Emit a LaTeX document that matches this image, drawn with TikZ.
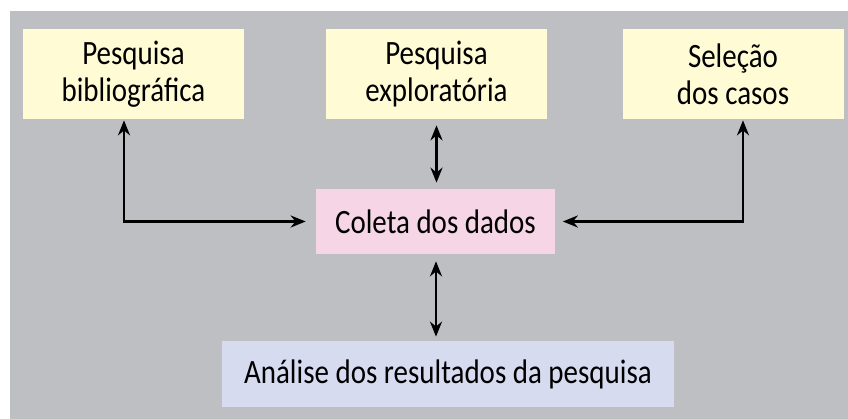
\documentclass[tikz,border=0pt]{standalone}
\usepackage{fontspec}
\setmainfont{Carlito}[FakeStretch=0.85]
\usepackage{tikz}
\usetikzlibrary{positioning}
\usetikzlibrary{arrows.meta}

\definecolor{fundo}{RGB}{190,191,195}
\definecolor{creme}{RGB}{255,251,213}
\definecolor{rosa}{RGB}{246,213,230}
\definecolor{lilas}{RGB}{214,219,240}

\tikzset{
  caixa/.style={rectangle, fill=creme, minimum width=4.42cm, minimum height=1.8cm,
    align=center, inner sep=0pt, font=\fontsize{19.4}{21}\selectfont},
  seta2/.style={line width=1.7pt, {Stealth[length=0.3cm,width=0.24cm]}-{Stealth[length=0.3cm,width=0.24cm]}}
}

\begin{document}
\begin{tikzpicture}
\useasboundingbox (0,0) rectangle (16.96,-8.38);
\fill[fundo] (0.2,-0.22) rectangle (16.96,-8.38);

\node[caixa] (bib) at (2.67,-1.48) {Pesquisa\\bibliográfica};
\node[caixa] (expl) at (8.73,-1.48) {Pesquisa\\exploratória};
\node[caixa] (sel) at (14.66,-1.48) {Seleção\\dos casos};
\node[caixa, fill=rosa, minimum width=4.78cm, minimum height=1.3cm] (coleta) at (8.71,-4.43) {Coleta dos dados};
\node[caixa, fill=lilas, minimum width=9.04cm, minimum height=1.32cm] (analise) at (8.96,-7.48) {Análise dos resultados da pesquisa};

%\draw (bib) -- (coleta);
\draw[seta2, shorten <=0.02cm, shorten >=0.2cm] ([xshift=-0.19cm]bib.south) |- (coleta.west);
\draw[seta2, shorten <=0.02cm, shorten >=0.15cm] ([xshift=0.2cm]sel.south) |- (coleta.east);
\draw[seta2, shorten <=0.12cm, shorten >=0.12cm] (expl.south) -- (expl.south |- coleta.north);
\draw[seta2, shorten <=0.14cm, shorten >=0.08cm] ([xshift=0.01cm]coleta.south) -- ([xshift=0.01cm]coleta.south |- analise.north);
\end{tikzpicture}
\end{document}
